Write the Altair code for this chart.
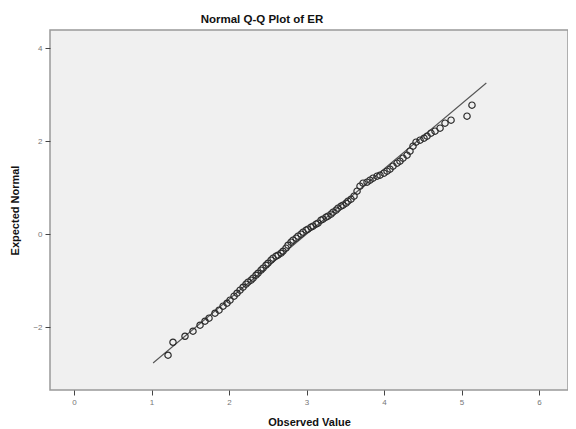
import altair as alt
import pandas as pd

observed = [1.213, 1.277, 1.432, 1.535, 1.626, 1.690, 1.742, 1.819, 1.871, 1.923,
            1.974, 2.013, 2.065, 2.103, 2.142, 2.181, 2.219, 2.245, 2.284, 2.310,
            2.348, 2.374, 2.413, 2.439, 2.477, 2.503, 2.542, 2.568, 2.606, 2.632,
            2.671, 2.697, 2.735, 2.761, 2.800, 2.826, 2.865, 2.890, 2.929, 2.955,
            2.994, 3.019, 3.058, 3.084, 3.123, 3.148, 3.187, 3.213, 3.252, 3.277,
            3.316, 3.342, 3.381, 3.406, 3.445, 3.471, 3.510, 3.535, 3.574, 3.613,
            3.652, 3.690, 3.729, 3.781, 3.819, 3.858, 3.910, 3.948, 4.000, 4.039,
            4.077, 4.116, 4.168, 4.206, 4.245, 4.297, 4.335, 4.374, 4.413, 4.465,
            4.516, 4.555, 4.606, 4.658, 4.723, 4.787, 4.865, 5.071, 5.135]
expected = [-2.602, -2.323, -2.194, -2.086, -1.957, -1.871, -1.806, -1.699, -1.634, -1.548,
            -1.484, -1.419, -1.333, -1.269, -1.204, -1.140, -1.075, -1.032, -0.989, -0.946,
            -0.882, -0.839, -0.774, -0.731, -0.667, -0.624, -0.559, -0.516, -0.473, -0.452,
            -0.409, -0.366, -0.301, -0.237, -0.172, -0.129, -0.086, -0.043, 0.000, 0.043,
            0.086, 0.108, 0.151, 0.172, 0.215, 0.237, 0.301, 0.323, 0.366, 0.387,
            0.430, 0.473, 0.516, 0.559, 0.602, 0.624, 0.667, 0.710, 0.753, 0.817,
            0.925, 1.032, 1.097, 1.118, 1.161, 1.204, 1.247, 1.269, 1.312, 1.355,
            1.398, 1.462, 1.527, 1.570, 1.634, 1.699, 1.785, 1.892, 1.978, 2.022,
            2.065, 2.108, 2.172, 2.215, 2.280, 2.387, 2.452, 2.538, 2.774]

line_observed = [1.02, 5.32]
line_expected = [-2.77, 3.25]

x_ticks = [0, 1, 2, 3, 4, 5, 6]
y_ticks = [-2, 0, 2, 4]

pts = pd.DataFrame({"obs": observed, "exp": expected})
ln = pd.DataFrame({"obs": line_observed, "exp": line_expected})

FONT = "Liberation Sans"

xscale = alt.Scale(domain=[-0.31, 6.374], nice=False, zero=False)
yscale = alt.Scale(domain=[-3.35, 4.39], nice=False, zero=False)

xaxis = alt.Axis(title="Observed Value", values=x_ticks, format="d", grid=False, domain=False,
                 tickSize=5, tickColor="#444", tickWidth=1,
                 labelFontSize=8, labelColor="#777", labelPadding=3, labelFont=FONT,
                 titleFontSize=11, titleFontWeight="bold", titleFont=FONT,
                 titleColor="#111", titlePadding=10)
yaxis = alt.Axis(title="Expected Normal", values=y_ticks, format="d", grid=False, domain=False,
                 tickSize=5, tickColor="#444", tickWidth=1,
                 labelFontSize=8, labelColor="#777", labelPadding=3, labelFont=FONT,
                 titleFontSize=11, titleFontWeight="bold", titleFont=FONT,
                 titleColor="#111", titlePadding=12)

line = alt.Chart(ln).mark_line(color="#555", strokeWidth=1.1).encode(
    x=alt.X("obs:Q", scale=xscale, axis=xaxis),
    y=alt.Y("exp:Q", scale=yscale, axis=yaxis),
)

points = alt.Chart(pts).mark_point(shape="circle", filled=False, size=40,
                                   color="#2a2a2a", strokeWidth=1.2, opacity=1).encode(
    x=alt.X("obs:Q", scale=xscale),
    y=alt.Y("exp:Q", scale=yscale),
)

chart = alt.layer(line, points).properties(
    width=518, height=360,
    title=alt.TitleParams("Normal Q-Q Plot of ER", fontSize=11.5, fontWeight="bold",
                          font=FONT, color="#111", anchor="middle", dx=-47, offset=5),
    autosize=alt.AutoSizeParams(type="none"),
    padding={"left": 42, "top": 22, "right": 0, "bottom": 37},
    background="white",
).configure_view(
    fill="#f0f0f0", stroke="#999", strokeWidth=1.5
)

chart.save("out.html", embed_options={"renderer": "svg", "actions": False})
